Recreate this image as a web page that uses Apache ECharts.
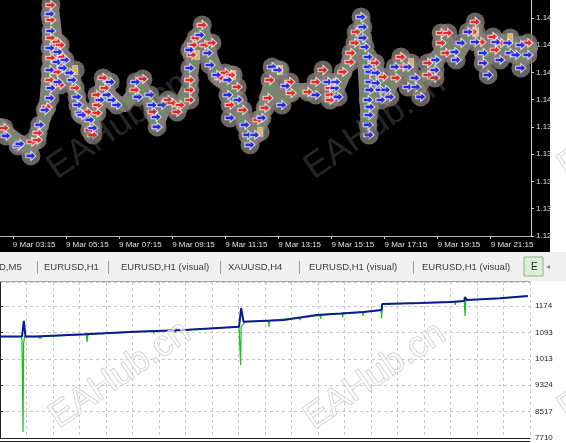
<!DOCTYPE html>
<html><head><meta charset="utf-8">
<script src="https://cdn.jsdelivr.net/npm/echarts@6/dist/echarts.min.js"></script>
<style>html,body{margin:0;padding:0;background:#fff}#c{width:566px;height:443px}</style>
</head><body><div id="c"></div>
<script>
// ---------- data ----------
// top chart: time in minutes since 9 Mar 00:00, price EURUSD
const timeTicks = [195, 315, 435, 555, 675, 795, 915, 1035, 1155, 1275];
const timeMin = 166, timeMax = 1366;
const priceMin = 1.1290, priceStep = 0.0025, priceMax = 1.15065;

const pricePath = [
  [166,1.13919],[189,1.13827],[211,1.13763],[234,1.13690],[252,1.13827],[268,1.14010],
  [279,1.14515],[284,1.14973],[293,1.14652],[306,1.14515],[324,1.14377],[342,1.14148],
  [358,1.14010],[374,1.13873],[387,1.14102],[399,1.14331],[419,1.14148],[449,1.14102],
  [482,1.14286],[505,1.14148],[521,1.13919],[539,1.14102],[573,1.14102],[595,1.14286],
  [607,1.14652],[623,1.14808],[641,1.14561],[663,1.14331],[690,1.14240],[708,1.14056],
  [731,1.13781],[754,1.13919],[776,1.14286],[806,1.14148],[833,1.14240],[867,1.14240],
  [901,1.14331],[923,1.14194],[952,1.14469],[975,1.14698],[984,1.14882],[998,1.13873],
  [1014,1.14423],[1043,1.14221],[1075,1.14515],[1111,1.14240],[1142,1.14423],[1172,1.14698],
  [1201,1.14561],[1237,1.14808],[1262,1.14515],[1291,1.14652],[1323,1.14607],[1346,1.14515],
  [1366,1.14625]
];

const buyMarks = [
  [180,1.13818],[207,1.13726],[211,1.13745],[236,1.13635],[256,1.13919],[268,1.14056],
  [279,1.14166],[281,1.14258],[279,1.14423],[279,1.14625],[281,1.14781],[279,1.14937],
  [297,1.14588],[295,1.14496],[313,1.14515],[308,1.14441],[297,1.14313],[324,1.14396],
  [329,1.14331],[340,1.14176],[342,1.14102],[347,1.14029],[351,1.14010],[369,1.13965],
  [376,1.13891],[392,1.14148],[408,1.14194],[415,1.14313],[419,1.14148],[430,1.14102],
  [473,1.14313],[478,1.14176],[505,1.14194],[510,1.14102],[519,1.13992],[521,1.13901],
  [532,1.14102],[595,1.14441],[595,1.14607],[618,1.14744],[636,1.14579],[641,1.14469],
  [656,1.14377],[681,1.14331],[704,1.14148],[681,1.14194],[686,1.13983],[720,1.13919],
  [726,1.13827],[731,1.13736],[742,1.13827],[758,1.13983],[781,1.14451],[794,1.14423],
  [803,1.14102],[812,1.14276],
  [880,1.14194],[907,1.14313],[923,1.14258],[925,1.14313],[930,1.14176],[982,1.14909],
  [986,1.14817],[986,1.14717],[991,1.14634],[998,1.14542],[998,1.14451],[1002,1.14405],
  [1002,1.14313],[1002,1.14240],[998,1.14148],[1002,1.14084],[1000,1.14010],[998,1.13919],
  [1000,1.13827],[1016,1.14396],[1016,1.14304],[1025,1.14240],[1027,1.14148],[1038,1.14240],
  [1047,1.14176],[1059,1.14451],[1088,1.14451],[1088,1.14267],[1104,1.14350],[1106,1.14267],
  [1117,1.14176],[1149,1.14423],[1151,1.14515],[1194,1.14588],[1197,1.14515],[1208,1.14671],
  [1224,1.14772],[1240,1.14680],[1258,1.14579],[1258,1.14487],[1269,1.14377],[1287,1.14680],
  [1296,1.14515],[1314,1.14671],[1319,1.14579],[1332,1.14561],[1343,1.14441],[1343,1.14652],
  [1359,1.14561]
];

const sellMarks = [
  [175,1.13891],[238,1.13763],[250,1.13781],[252,1.13845],[272,1.14084],[279,1.14331],
  [281,1.14533],[281,1.14717],[281,1.14882],[281,1.15019],[295,1.14680],[302,1.14652],
  [295,1.14405],[306,1.14542],[302,1.14286],[336,1.14258],[363,1.14038],[369,1.13873],
  [376,1.13827],[385,1.14194],[385,1.14029],[387,1.14102],[399,1.14350],[403,1.14258],
  [471,1.14240],[489,1.14341],[512,1.14038],[546,1.14148],[555,1.14120],[566,1.14038],
  [573,1.14102],[595,1.14148],[595,1.14240],[595,1.14331],[600,1.14561],[602,1.14652],
  [609,1.14717],[623,1.14836],[629,1.14652],[645,1.14671],[663,1.14350],[675,1.14396],
  [688,1.14377],[702,1.14267],[686,1.14102],[715,1.14056],[749,1.13965],[765,1.14075],
  [772,1.14166],[776,1.14331],
  [821,1.14313],[824,1.14212],[862,1.14221],[880,1.14313],[896,1.14423],[912,1.14258],
  [912,1.14194],[912,1.14148],[941,1.14405],[957,1.14496],[959,1.14579],[968,1.14671],
  [971,1.14772],[1014,1.14487],[1032,1.14359],[1061,1.14350],[1072,1.14542],[1077,1.14451],
  [1133,1.14487],[1133,1.14377],[1149,1.14350],[1163,1.14762],[1163,1.14671],[1178,1.14762],
  [1174,1.14579],[1235,1.14772],[1240,1.14863],[1253,1.14680],[1280,1.14726],[1285,1.14607],
  [1298,1.14671],[1359,1.14671]
];

const closeMarks = [
  [336,1.14423],[611,1.14561],[693,1.14377],[754,1.13855],[799,1.14423],
  [925,1.14304],[1095,1.14487],[1242,1.14772],[1319,1.14717]
];

// bottom chart: deal number vs balance / equity
const dealMin = 0, dealMax = 200, dealStep = 10;
const moneyMin = 7710, moneyStep = 807, moneyMax = 12480;

const balance = [
  [0,10810],[8.3,10810],[8.8,10815],[9,11290],[9.4,11250],[9.6,10815],[13.2,10812],
  [32,10880],[50.8,10960],[69.6,11012],[90.2,11112],[90.9,11115],[91.0,11684],[91.7,11655],
  [91.9,11266],[98.5,11290],[107.1,11317],[119.5,11470],[128.6,11516],[137.2,11562],
  [144,11623],[144.2,11806],[158.6,11837],[169.9,11868],[175.2,11898],[175.4,12020],
  [176.0,11995],[176.2,11929],[188.7,11981],[199.2,12051]
];

const equity = [
  [0,10810],[8.0,10810],[8.3,10700],[8.5,10650],[8.7,7893],[8.9,10600],[9.3,10815],
  [14.5,10812],[14.8,10750],[15.1,10812],[15.4,10750],[15.7,10812],[32.6,10878],[32.9,10645],
  [33.2,10880],[57.9,10985],[58.1,10900],[58.3,10988],[66,11000],[66.2,10930],[66.4,11002],
  [90.2,11112],[90.5,11080],[90.8,9942],[91.0,11112],[92.6,11268],[101.3,11295],[101.5,11103],
  [101.7,11298],[113.0,11390],[113.2,11317],[113.4,11392],[120.8,11462],[121.0,11360],
  [121.2,11465],[129.1,11518],[129.3,11400],[129.5,11520],[136.8,11560],[137.0,11440],
  [137.2,11562],[143.8,11620],[144.0,11370],[144.3,11806],[171.6,11870],[171.8,11780],
  [172.0,11872],[175.2,11898],[175.5,11440],[175.8,11990],[176.6,11929],[188.7,11981],
  [199.2,12051]
];

const tabLabels = ['D,M5', 'EURUSD,H1', 'EURUSD,H1 (visual)', 'XAUUSD,H4',
                   'EURUSD,H1 (visual)', 'EURUSD,H1 (visual)'];
const activeTab = 'E';
const watermark = 'EAHub.cn';

// ---------- layout helpers (positions only) ----------
const tabX = [-1, 44, 121, 228, 309, 422];
const sepX = [37, 108, 220, 299, 413];
const FONT = 'Liberation Sans, Arial, sans-serif';
const pad = n => (n < 10 ? '0' : '') + n;
const fmtTime = v => { v = Math.round(v); return '9 Mar ' + pad(Math.floor(v / 60)) + ':' + pad(v % 60); };

const arrow = 'path://M0,30 L50,30 L50,0 L100,50 L50,100 L50,70 L0,70 Z';

const graphics = [
  { type: 'rect', z: -1, shape: { x: 0, y: 0, width: 550, height: 252 }, style: { fill: '#000' } },
  { type: 'rect', z: -1, shape: { x: 0, y: 252, width: 566, height: 29 }, style: { fill: '#f0f0f0' } },
  { type: 'rect', z: 1, shape: { x: 524, y: 257, width: 19, height: 19 }, style: { fill: '#dcefd6', stroke: '#8fb08a', lineWidth: 1 } },
  { type: 'text', z: 2, x: 531, y: 267, style: { text: activeTab, font: '10px ' + FONT, fill: '#222', verticalAlign: 'middle' } },
  { type: 'text', z: 2, x: 546, y: 267, style: { text: '◂', font: '8px DejaVu Sans', fill: '#888', verticalAlign: 'middle' } },
  { type: 'line', z: 2, shape: { x1: 0, y1: 281.5, x2: 530, y2: 281.5 }, style: { stroke: '#a8a8a8', lineWidth: 1 } },
  { type: 'line', z: 2, shape: { x1: 0, y1: 441.5, x2: 530, y2: 441.5 }, style: { stroke: '#222', lineWidth: 1 } }
];
tabLabels.forEach((t, i) => graphics.push({
  type: 'text', z: 2, x: tabX[i], y: 267,
  style: { text: t, font: '9.5px ' + FONT, fill: '#3a3a3a', verticalAlign: 'middle' }
}));
sepX.forEach(x => graphics.push({
  type: 'line', z: 2, shape: { x1: x + 0.5, y1: 261, x2: x + 0.5, y2: 274 }, style: { stroke: '#9a9a9a', lineWidth: 1 }
}));
const wmTop = [[118, 126], [375, 126]];
wmTop.forEach(p => graphics.push({
  type: 'text', z: 50, x: p[0], y: p[1], rotation: 0.6,
  style: { text: watermark, font: '36px ' + FONT, fill: 'rgba(85,85,85,0.45)', align: 'center', verticalAlign: 'middle' }
}));
const wmBottom = [[120, 375], [375, 376]];
wmBottom.forEach(p => graphics.push({
  type: 'text', z: 50, x: p[0], y: p[1], rotation: 0.6,
  style: { text: watermark, font: '36px ' + FONT, fill: 'rgba(255,255,255,0.6)', stroke: '#c4c4c4', lineWidth: 1, align: 'center', verticalAlign: 'middle' }
}));
// edge fragments of the next watermark column (only the "E" is inside the picture)
[[562, 170], [562, 412]].forEach(p => graphics.push({
  type: 'text', z: 50, x: p[0], y: p[1], rotation: 0.6,
  style: { text: 'E', font: '36px ' + FONT, fill: 'rgba(255,255,255,0.6)', stroke: '#c8c8c8', lineWidth: 1, align: 'left', verticalAlign: 'middle' }
}));

const chart = echarts.init(document.getElementById('c'), null, { renderer: 'canvas' });
chart.setOption({
  backgroundColor: '#fff',
  animation: false,
  textStyle: { fontFamily: FONT },
  graphic: graphics,
  grid: [
    { left: 0, top: 0, width: 531, height: 236, containLabel: false },
    { left: -2, top: 282, width: 532, height: 156, containLabel: false }
  ],
  xAxis: [
    {
      type: 'value', gridIndex: 0, min: timeMin, max: timeMax,
      axisLine: { show: true, lineStyle: { color: '#b8b8b8' } },
      axisTick: { show: true, customValues: timeTicks, length: 3, lineStyle: { color: '#b8b8b8' } },
      axisLabel: { customValues: timeTicks, formatter: fmtTime, color: '#e0e0e0', fontSize: 8, align: 'left', margin: 5, fontFamily: FONT },
      splitLine: { show: false }
    },
    {
      type: 'value', gridIndex: 1, min: dealMin, max: dealMax, interval: dealStep,
      axisLine: { show: true, lineStyle: { color: '#222' } },
      axisTick: { show: false }, axisLabel: { show: false },
      splitLine: { show: true, lineStyle: { color: '#c6c6c6', type: [3, 3] } }
    }
  ],
  yAxis: [
    {
      type: 'value', gridIndex: 0, position: 'right', min: priceMin, max: priceMax, interval: priceStep,
      axisLine: { show: true, lineStyle: { color: '#d0d0d0' } },
      axisTick: { show: true, length: 3, lineStyle: { color: '#d0d0d0' } },
      axisLabel: { showMaxLabel: false, formatter: v => v.toFixed(4).slice(0, 4), color: '#e0e0e0', fontSize: 8, margin: 5, fontFamily: FONT },
      splitLine: { show: false }
    },
    {
      type: 'value', gridIndex: 1, position: 'right', min: moneyMin, max: moneyMax, interval: moneyStep,
      axisLine: { show: true, lineStyle: { color: '#222' } },
      axisTick: { show: true, length: 3, lineStyle: { color: '#222' } },
      axisLabel: { showMaxLabel: false, formatter: v => String(Math.round(v)).slice(0, 4), color: '#222', fontSize: 8, margin: 5, fontFamily: FONT },
      splitLine: { show: true, lineStyle: { color: '#c6c6c6', type: [3, 3] } }
    }
  ],
  series: [
    { type: 'line', xAxisIndex: 0, yAxisIndex: 0, data: pricePath, symbol: 'none', silent: true,
      lineStyle: { color: '#837d77', width: 14, cap: 'round', join: 'round' }, z: 2 },
    { type: 'scatter', xAxisIndex: 0, yAxisIndex: 0, data: buyMarks.concat(sellMarks, closeMarks), symbol: 'circle', symbolSize: 19,
      itemStyle: { color: '#837d77' }, silent: true, z: 2 },
    { type: 'line', xAxisIndex: 0, yAxisIndex: 0, data: pricePath, symbol: 'none', silent: true,
      lineStyle: { color: '#30c030', width: 1 }, z: 3 },
    { type: 'scatter', xAxisIndex: 0, yAxisIndex: 0, data: closeMarks, symbol: 'rect', symbolSize: [5, 9],
      itemStyle: { color: '#f0c060', borderColor: '#fff', borderWidth: 0.5 }, z: 4 },
    { type: 'scatter', xAxisIndex: 0, yAxisIndex: 0, data: sellMarks, symbol: arrow, symbolSize: [10, 9],
      itemStyle: { color: '#ff1010', borderColor: '#fff', borderWidth: 1 }, z: 4 },
    { type: 'scatter', xAxisIndex: 0, yAxisIndex: 0, data: buyMarks, symbol: arrow, symbolSize: [10, 9],
      itemStyle: { color: '#1010ff', borderColor: '#fff', borderWidth: 1 }, z: 4 },
    { type: 'line', xAxisIndex: 1, yAxisIndex: 1, data: equity, symbol: 'none',
      lineStyle: { color: '#18c018', width: 1.2 }, z: 3 },
    { type: 'line', xAxisIndex: 1, yAxisIndex: 1, data: balance, symbol: 'none',
      lineStyle: { color: '#0a1a90', width: 2 }, z: 4 }
  ]
});
</script>
</body></html>
